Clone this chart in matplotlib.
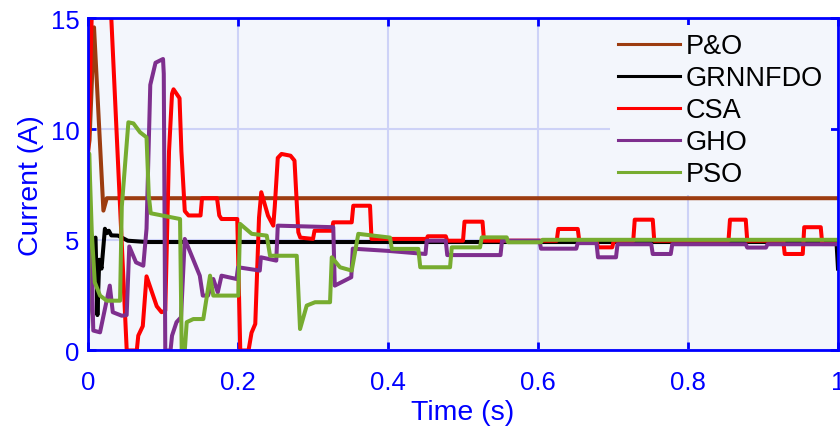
import matplotlib
matplotlib.use("Agg")
import matplotlib.pyplot as plt
import numpy as np

plt.rcParams['font.family'] = ['Liberation Sans', 'DejaVu Sans']

# time (s) / current (A)
po_t = [0, 0.002, 0.008, 0.0205, 0.025, 1.0]
po_i = [9.0, 9.5, 14.6, 6.32, 6.88, 6.88]

grnn_t = [0, 0.010, 0.0125, 0.015, 0.018, 0.0225, 0.025, 0.0278, 0.031,
          0.040, 0.053, 0.078, 0.998, 1.0]
grnn_i = [1.6, 5.1, 1.6, 4.1, 3.7, 5.5, 5.3, 5.41, 5.2,
          5.19, 4.96, 4.9, 4.9, 3.7]

csa_t = [0, 0.006, 0.029, 0.0516, 0.065, 0.067, 0.073, 0.078, 0.0916,
         0.098, 0.103, 0.108, 0.112, 0.114, 0.122, 0.1245, 0.129, 0.134,
         0.150, 0.152, 0.172, 0.175, 0.178, 0.199, 0.203, 0.214, 0.218,
         0.223, 0.228, 0.231, 0.240, 0.247, 0.249, 0.253, 0.258, 0.270,
         0.2753, 0.2804, 0.283, 0.300, 0.302, 0.325, 0.327, 0.3516, 0.3537,
         0.376, 0.378, 0.4516, 0.453, 0.477, 0.479, 0.500, 0.502, 0.526,
         0.528, 0.625, 0.627, 0.653, 0.655, 0.678, 0.680, 0.699, 0.701,
         0.727, 0.729, 0.753, 0.755, 0.854, 0.856, 0.877, 0.879, 0.927,
         0.929, 0.953, 0.955, 0.977, 0.979, 1.0]
csa_i = [8.8, 16.5, 16.5, 0, 0, 0.67, 1.1, 3.35, 2.0,
         1.73, 1.8, 9.0, 11.6, 11.8, 11.4, 9.0, 6.3, 6.1,
         6.1, 6.88, 6.88, 6.1, 5.94, 5.94, 0, 0, 0.8,
         1.2, 6.0, 7.15, 6.09, 5.64, 6.5, 8.7, 8.88, 8.8,
         8.58, 5.34, 5.1, 5.04, 5.41, 5.41, 5.79, 5.79, 6.54,
         6.54, 5.04, 5.04, 5.16, 5.16, 4.96, 4.96, 5.82, 5.82,
         4.96, 4.96, 5.49, 5.49, 4.96, 4.96, 4.66, 4.66, 4.96,
         4.96, 5.91, 5.91, 4.96, 4.96, 5.91, 5.91, 4.96, 4.96,
         4.36, 4.36, 5.57, 5.57, 4.81, 4.81]

gho_t = [0, 0.004, 0.007, 0.016, 0.029, 0.033, 0.045, 0.0515, 0.055,
         0.064, 0.0737, 0.078, 0.083, 0.090, 0.1, 0.101, 0.103, 0.11,
         0.112, 0.118, 0.124, 0.129, 0.140, 0.149, 0.153, 0.160, 0.167,
         0.173, 0.178, 0.198, 0.200, 0.229, 0.2305, 0.251, 0.253, 0.327,
         0.329, 0.351, 0.353, 0.40, 0.45, 0.4516, 0.477, 0.479, 0.550,
         0.552, 0.602, 0.604, 0.651, 0.653, 0.678, 0.680, 0.704, 0.706,
         0.751, 0.753, 0.777, 0.779, 0.877, 0.879, 0.904, 0.906, 1.0]
gho_i = [1.1, 4.9, 0.9, 0.82, 2.93, 1.73, 1.57, 1.6, 4.7,
         3.98, 3.83, 5.5, 12.0, 13.0, 13.17, 12.5, 0, 0,
         0.67, 1.28, 1.5, 5.04, 4.13, 3.38, 2.48, 2.48, 3.23,
         2.63, 3.38, 3.23, 3.76, 3.61, 4.21, 4.06, 5.64, 5.57,
         2.93, 3.31, 4.6, 4.5, 4.36, 4.96, 4.96, 4.31, 4.31,
         4.96, 4.96, 4.6, 4.6, 4.85, 4.85, 4.21, 4.21, 4.8,
         4.8, 4.36, 4.36, 4.8, 4.8, 4.65, 4.65, 4.8, 4.8]

pso_t = [0, 0.0015, 0.005, 0.009, 0.016, 0.025, 0.0427, 0.045, 0.0538,
         0.0605, 0.0693, 0.078, 0.081, 0.0836, 0.1227, 0.1249, 0.129,
         0.1316, 0.1404, 0.1537, 0.1627, 0.167, 0.2004, 0.2027, 0.2183,
         0.2383, 0.2427, 0.2783, 0.2827, 0.2916, 0.3027, 0.3227, 0.325,
         0.336, 0.3516, 0.3604, 0.4027, 0.405, 0.4404, 0.443, 0.4827,
         0.485, 0.5227, 0.525, 0.5583, 0.56, 0.604, 0.606, 1.0]
pso_i = [1.1, 8.9, 5.34, 3.08, 2.48, 2.25, 2.25, 6.5, 10.31,
         10.26, 9.86, 9.63, 7.0, 6.2, 5.94, 0, 0,
         1.28, 1.42, 1.42, 3.38, 2.48, 2.48, 5.72, 5.27,
         5.19, 4.28, 4.28, 0.97, 2.03, 2.18, 2.18, 4.21,
         3.76, 3.61, 5.27, 5.1, 4.59, 4.59, 3.76, 3.76,
         4.66, 4.66, 5.11, 5.11, 4.89, 4.89, 5.0, 5.0]

series = [
    ('P&O', po_t, po_i, '#9C3C10'),
    ('GRNNFDO', grnn_t, grnn_i, 'black'),
    ('CSA', csa_t, csa_i, '#FF0000'),
    ('GHO', gho_t, gho_i, '#7E2F8E'),
    ('PSO', pso_t, pso_i, '#77AC30'),
]

blue = '#0000FF'
fig = plt.figure(figsize=(8.4, 4.35), dpi=100)
ax = fig.add_axes([0.1048, 0.192, 0.8928, 0.7632])
ax.set_facecolor('#F3F6FC')

for name, t, i, c in series:
    ax.plot(t, i, color=c, lw=2.9, label=name, solid_joinstyle='round')

ax.set_xlim(0, 1)
ax.set_ylim(0, 15)
ax.set_xticks([0, 0.2, 0.4, 0.6, 0.8, 1.0])
ax.set_xticklabels(['0', '0.2', '0.4', '0.6', '0.8', '1'])
ax.set_yticks([0, 5, 10, 15])
ax.grid(True, color='#CDD2F7', lw=1.5)
ax.set_axisbelow(True)
for s in ax.spines.values():
    s.set_color(blue)
    s.set_linewidth(2)
ax.tick_params(direction='in', length=6, width=2, colors=blue,
               labelsize=18.5, top=True, right=True)
ax.tick_params(axis='x', pad=14)
ax.tick_params(axis='y', pad=6)
ax.set_xlabel('Time (s)', fontsize=20.5, color=blue, labelpad=4)
ax.set_ylabel('Current (A)', fontsize=20.5, color=blue, labelpad=5)

leg = ax.legend(loc='upper right', fontsize=19.5, frameon=True,
                handlelength=2.3, handletextpad=0.22, labelspacing=0.22,
                borderaxespad=0.25, borderpad=0.3)
leg.get_frame().set_facecolor('#F3F6FC')
leg.get_frame().set_edgecolor('none')
leg.get_frame().set_alpha(1)
for h in leg.get_lines():
    h.set_linewidth(2.2)

fig.savefig('out.png', dpi=100)
